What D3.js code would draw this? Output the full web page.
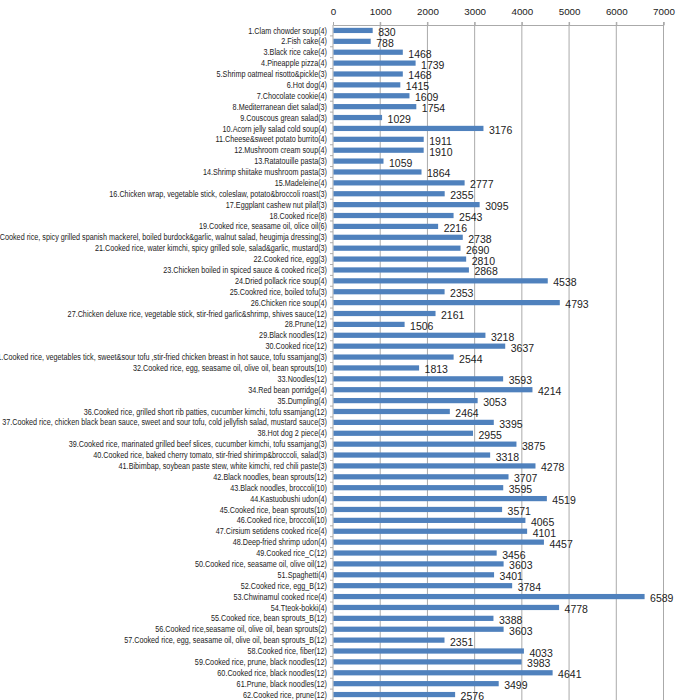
<!DOCTYPE html>
<html>
<head>
<meta charset="utf-8">
<script src="https://cdn.jsdelivr.net/npm/d3@7"></script>
<style>
  html, body { margin: 0; padding: 0; background: #fff; }
  svg { display: block; }
</style>
</head>
<body>
<svg id="chart" width="676" height="700"></svg>
<script>
const categories = [
  "1.Clam chowder soup(4)",
  "2.Fish cake(4)",
  "3.Black rice cake(4)",
  "4.Pineapple pizza(4)",
  "5.Shrimp oatmeal risotto&pickle(3)",
  "6.Hot dog(4)",
  "7.Chocolate cookie(4)",
  "8.Mediterranean diet salad(3)",
  "9.Couscous grean salad(3)",
  "10.Acorn jelly salad cold soup(4)",
  "11.Cheese&sweet potato burrito(4)",
  "12.Mushroom cream soup(4)",
  "13.Ratatouille pasta(3)",
  "14.Shrimp shiitake mushroom pasta(3)",
  "15.Madeleine(4)",
  "16.Chicken wrap, vegetable stick, coleslaw, potato&broccoli roast(3)",
  "17.Eggplant cashew nut pilaf(3)",
  "18.Cooked rice(8)",
  "19.Cooked rice, seasame oil, olice oil(6)",
  "20.Cooked rice, spicy grilled spanish mackerel, boiled burdock&garlic, walnut salad, heugimja dressing(3)",
  "21.Cooked rice, water kimchi, spicy grilled sole, salad&garlic, mustard(3)",
  "22.Cooked rice, egg(3)",
  "23.Chicken boiled in spiced sauce & cooked rice(3)",
  "24.Dried pollack rice soup(4)",
  "25.Cookred rice, boiled tofu(3)",
  "26.Chicken rice soup(4)",
  "27.Chicken deluxe rice, vegetable stick, stir-fried garlic&shrimp, shives sauce(12)",
  "28.Prune(12)",
  "29.Black noodles(12)",
  "30.Cooked rice(12)",
  "31.Cooked rice, vegetables tick, sweet&sour tofu ,stir-fried chicken breast in hot sauce, tofu ssamjang(3)",
  "32.Cooked rice, egg, seasame oil, olive oil, bean sprouts(10)",
  "33.Noodles(12)",
  "34.Red bean porridge(4)",
  "35.Dumpling(4)",
  "36.Cooked rice, grilled short rib patties, cucumber kimchi, tofu ssamjang(12)",
  "37.Cooked rice, chicken black bean sauce, sweet and sour tofu, cold jellyfish salad, mustard sauce(3)",
  "38.Hot dog 2 piece(4)",
  "39.Cooked rice, marinated grilled beef slices, cucumber kimchi, tofu ssamjang(3)",
  "40.Cooked rice, baked cherry tomato, stir-fried shirimp&broccoli, salad(3)",
  "41.Bibimbap, soybean paste stew, white kimchi, red chili paste(3)",
  "42.Black noodles, bean sprouts(12)",
  "43.Black noodles, broccoli(10)",
  "44.Kastuobushi udon(4)",
  "45.Cooked rice, bean sprouts(10)",
  "46.Cooked rice, broccoli(10)",
  "47.Cirsium setidens cooked rice(4)",
  "48.Deep-fried shrimp udon(4)",
  "49.Cooked rice_C(12)",
  "50.Cooked rice, seasame oil, olive oil(12)",
  "51.Spaghetti(4)",
  "52.Cooked rice, egg_B(12)",
  "53.Chwinamul cooked rice(4)",
  "54.Tteok-bokki(4)",
  "55.Cooked rice, bean sprouts_B(12)",
  "56.Cooked rice,seasame oil, olive oil, bean sprouts(2)",
  "57.Cooked rice, egg, seasame oil, olive oil, bean sprouts_B(12)",
  "58.Cooked rice, fiber(12)",
  "59.Cooked rice, prune, black noodles(12)",
  "60.Cooked rice, black noodles(12)",
  "61.Prune, black noodles(12)",
  "62.Cooked rice, prune(12)"
];

const values = [
  830, 788, 1468, 1739, 1468, 1415, 1609, 1754, 1029, 3176,
  1911, 1910, 1059, 1864, 2777, 2355, 3095, 2543, 2216, 2738,
  2690, 2810, 2868, 4538, 2353, 4793, 2161, 1506, 3218, 3637,
  2544, 1813, 3593, 4214, 3053, 2464, 3395, 2955, 3875, 3318,
  4278, 3707, 3595, 4519, 3571, 4065, 4101, 4457, 3456, 3603,
  3401, 3784, 6589, 4778, 3388, 3603, 2351, 4033, 3983, 4641,
  3499, 2576
];

const xTicks = [0, 1000, 2000, 3000, 4000, 5000, 6000, 7000];

const data = categories.map((c, i) => ({ cat: c, val: values[i] }));

const svg = d3.select("#chart");
const mLeft = 333, mRight = 663.5, mTop = 25, mBottom = 700;

const x = d3.scaleLinear().domain([0, 7000]).range([mLeft, mRight]);
const y = d3.scaleBand().domain(categories).range([mTop, mBottom]).paddingInner(0.52).paddingOuter(0.26);
const band = d3.scaleBand().domain(categories).range([mTop, mBottom]);

// gridlines
svg.append("g").selectAll("line").data(xTicks.slice(1)).join("line")
  .attr("x1", d => x(d)).attr("x2", d => x(d))
  .attr("y1", mTop - 3).attr("y2", mBottom)
  .attr("stroke", "#aaaaaa").attr("stroke-width", 1);

// top axis
const xAxis = d3.axisTop(x).tickValues(xTicks).tickSize(3).tickPadding(7).tickFormat(d3.format("d"));
const gx = svg.append("g").attr("transform", `translate(0,${mTop})`).call(xAxis);
gx.select(".domain").attr("stroke", "#aaaaaa");
gx.selectAll(".tick line").attr("stroke", "#aaaaaa");
gx.selectAll(".tick text")
  .attr("font-family", "'Liberation Sans', Arial, sans-serif")
  .attr("font-size", "9.8px").attr("fill", "#222");

// left axis line + ticks at band boundaries
svg.append("line").attr("x1", mLeft).attr("x2", mLeft).attr("y1", mTop).attr("y2", mBottom)
  .attr("stroke", "#aaaaaa");
svg.append("g").selectAll("line").data(categories).join("line")
  .attr("x1", mLeft - 3).attr("x2", mLeft)
  .attr("y1", d => band(d) + band.bandwidth()).attr("y2", d => band(d) + band.bandwidth())
  .attr("stroke", "#aaaaaa");

// bars
svg.append("g").selectAll("rect").data(data).join("rect")
  .attr("x", x(0) + 0.5)
  .attr("y", d => y(d.cat))
  .attr("width", d => x(d.val) - x(0))
  .attr("height", y.bandwidth())
  .attr("fill", "#4f81bd");

// value labels
svg.append("g").selectAll("text").data(data).join("text")
  .attr("x", d => x(d.val) + 6)
  .attr("y", d => band(d.cat) + band.bandwidth() / 2 + 5.5)
  .attr("font-family", "'Liberation Sans', Arial, sans-serif")
  .attr("font-size", "10.5px").attr("fill", "#222")
  .text(d => d.val);

// category labels (condensed horizontally to match the narrow source font)
const labelAnchor = mLeft - 6;
const labG = svg.append("g");
const labs = labG.selectAll("text").data(data).join("text")
  .attr("x", labelAnchor)
  .attr("y", d => band(d.cat) + band.bandwidth() / 2)
  .attr("dy", "0.35em")
  .attr("text-anchor", "end")
  .attr("font-family", "'Liberation Sans', Arial, sans-serif")
  .attr("font-size", "8.8px").attr("fill", "#222")
  .text(d => d.cat);
// the widest reference label (#37) spans about 325px
const w37 = labs.filter((d, i) => i === 36).node().getComputedTextLength();
const sx = 325 / w37;
labG.attr("transform", `translate(${labelAnchor},0) scale(${sx},1) translate(${-labelAnchor},0)`);
</script>
</body>
</html>
